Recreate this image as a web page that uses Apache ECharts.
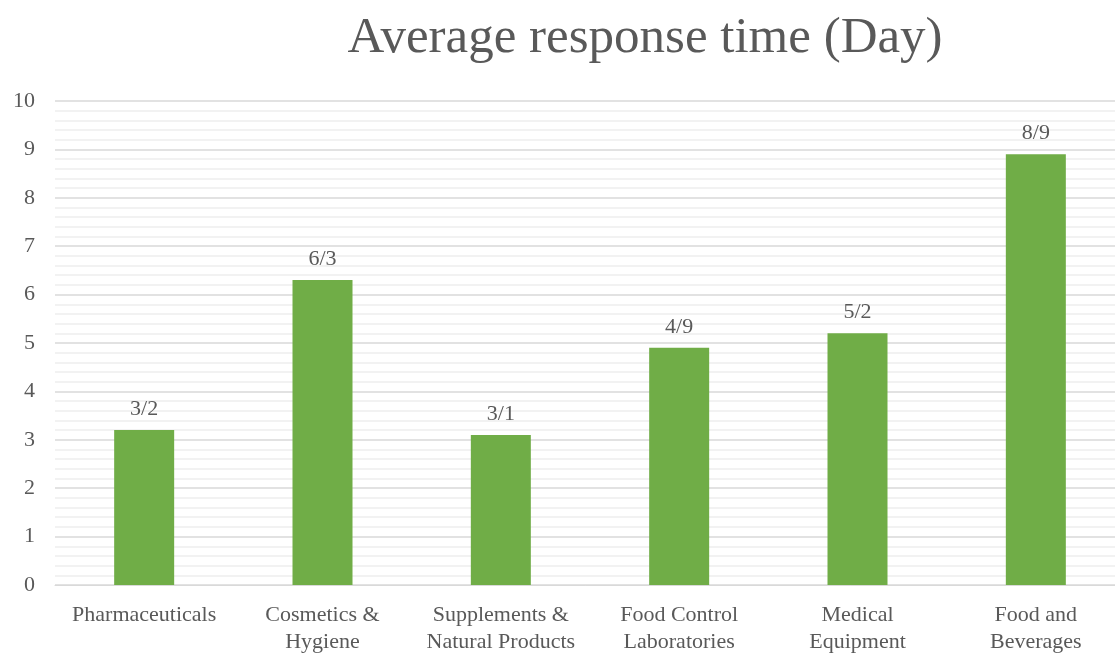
<!DOCTYPE html>
<html>
<head>
<meta charset="utf-8">
<script src="https://cdn.jsdelivr.net/npm/echarts@6/dist/echarts.min.js"></script>
<style>
  html, body { margin: 0; padding: 0; background: #fff; overflow: hidden; }
  #chart { width: 1115px; height: 653px; }
</style>
</head>
<body>
<div id="chart"></div>
<script>
// Average response time per sector, in days
const categories = [
  'Pharmaceuticals',
  'Cosmetics &\nHygiene',
  'Supplements &\nNatural Products',
  'Food Control\nLaboratories',
  'Medical\nEquipment',
  'Food and\nBeverages'
];
const responseDays = [3.2, 6.3, 3.1, 4.9, 5.2, 8.9];
const yTicks = [0, 1, 2, 3, 4, 5, 6, 7, 8, 9, 10];

const serif = '"Liberation Serif", "DejaVu Serif", serif';
const textColor = '#595959';

const chart = echarts.init(document.getElementById('chart'));
chart.setOption({
  animation: false,
  backgroundColor: '#ffffff',
  title: {
    text: 'Average response time (Day)',
    left: 640,
    textAlign: 'center',
    top: 8,
    textStyle: { fontFamily: serif, fontSize: 51, fontWeight: 'normal', color: textColor }
  },
  // plot area runs slightly past the right edge of the canvas
  grid: { left: 55, width: 1070, top: 101, bottom: 68, outerBoundsMode: 'none', containLabel: false },
  xAxis: {
    type: 'category',
    data: categories,
    axisLine: { show: true, lineStyle: { color: '#d9d9d9', width: 1 } },
    axisTick: { show: false },
    axisLabel: { fontFamily: serif, fontSize: 22, color: textColor, margin: 17, lineHeight: 27, interval: 0 }
  },
  yAxis: {
    type: 'value',
    min: yTicks[0],
    max: yTicks[yTicks.length - 1],
    interval: 1,
    axisLine: { show: false },
    axisTick: { show: false },
    axisLabel: { fontFamily: serif, fontSize: 22, color: textColor, margin: 20 },
    splitLine: { lineStyle: { color: '#d9d9d9', width: 1.5 } },
    minorTick: { show: false, splitNumber: 5 },
    minorSplitLine: { show: true, lineStyle: { color: '#eeeeee', width: 1.5 } }
  },
  series: [{
    type: 'bar',
    data: responseDays,
    barWidth: 60,
    itemStyle: { color: '#70ad47' },
    label: {
      show: true,
      position: 'top',
      distance: 10,
      fontFamily: serif,
      fontSize: 22,
      color: textColor,
      formatter: p => String(p.value).replace('.', '/')
    }
  }]
});
</script>
</body>
</html>
